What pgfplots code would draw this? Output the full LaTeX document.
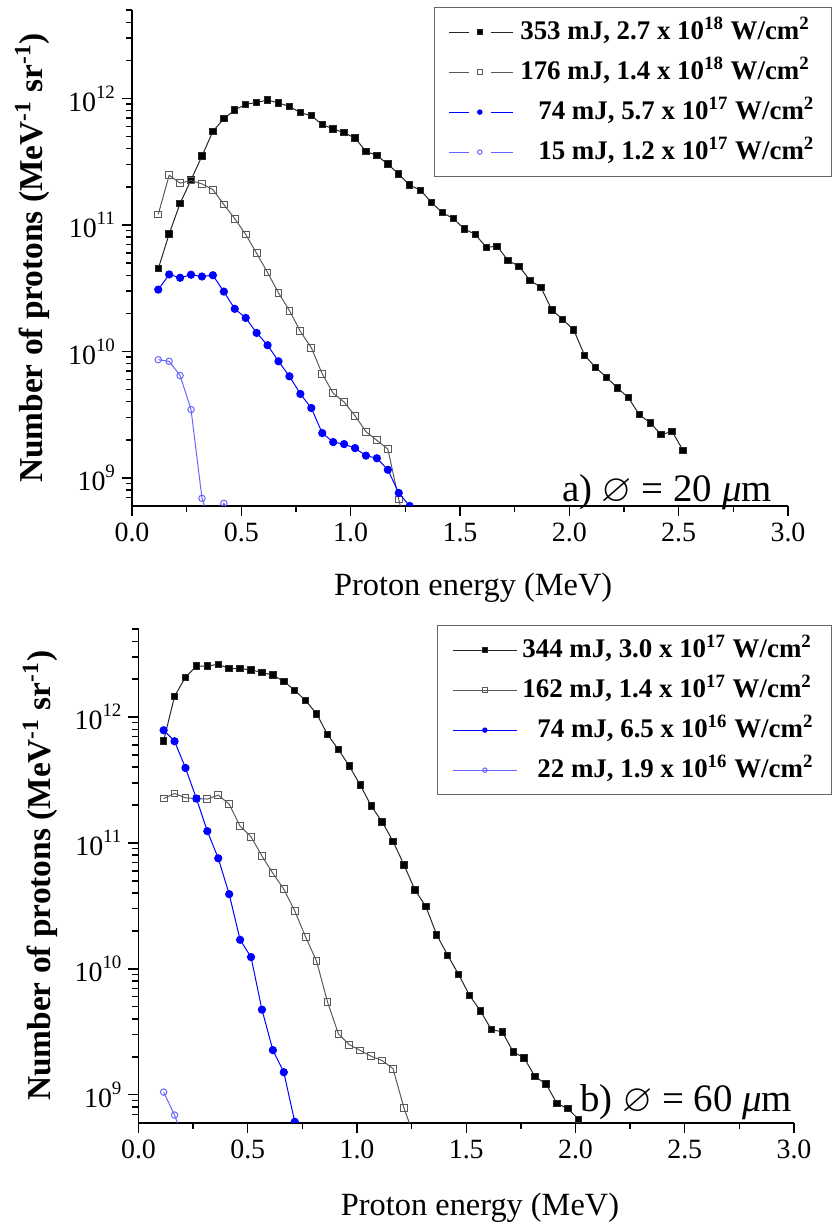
\documentclass[border=0pt]{standalone}
\usepackage{fontspec}
\setmainfont{Liberation Serif}
\usepackage{amssymb}
\usepackage{pgfplots}
\pgfplotsset{compat=1.18}
\newcommand{\tsup}[1]{\raisebox{6.5bp}{\fontsize{9.5}{10}\selectfont #1}}
\tikzset{
  sA/.style={color=black!85, line width=0.5bp, mark=square*, mark size=1.6bp, mark options={solid, fill=black}},
  sB/.style={color=black!65, line width=0.5bp, mark=square, mark size=1.7bp, mark options={solid, line width=0.5bp}},
  sC/.style={color=blue, line width=0.5bp, mark=*, mark size=1.8bp},
  sD/.style={color=blue!60, line width=0.5bp, mark=o, mark size=1.6bp, mark options={line width=0.5bp}},
}
\begin{document}
\begin{tikzpicture}
\useasboundingbox (0,0) rectangle (416.5bp,612.5bp);
% ---------------- panel a ----------------
\begin{axis}[
  scale only axis,
  ymode=log,
  xmin=0, xmax=3, ymin=6e8, ymax=5e12,
  axis x line*=bottom, axis y line*=left,
  axis line style={line width=0.9bp, -},
  xtick={0,0.5,1,1.5,2,2.5,3}, minor xtick={0.25,0.75,1.25,1.75,2.25,2.75},
  ytick={1e9,1e10,1e11,1e12},
  yticklabels={10\tsup{9},10\tsup{10},10\tsup{11},10\tsup{12}},
  minor ytick={7e8,8e8,9e8,2e9,3e9,4e9,5e9,6e9,7e9,8e9,9e9,2e10,3e10,4e10,5e10,6e10,7e10,8e10,9e10,2e11,3e11,4e11,5e11,6e11,7e11,8e11,9e11,2e12,3e12,4e12,5e12},
  tick align=outside,
  major tick length=5bp, minor tick length=3bp,
  tick style={line width=0.7bp, black},
  xticklabel style={/pgf/number format/fixed, /pgf/number format/fixed zerofill, /pgf/number format/precision=1, /pgf/number format/assume math mode=true},
  tick label style={font=\fontsize{14}{16}\selectfont},
  clip mode=individual,
  clip marker paths=true,
  legend cell align=left,
  at={(66bp,359.5bp)}, anchor=south west, width=328bp, height=248bp,
  xlabel={Proton energy (MeV)},
  ylabel={Number of protons (MeV\textsuperscript{-1} sr\textsuperscript{-1})},
  xlabel style={at={(axis description cs:0.52,-0.181)}, anchor=base, font=\fontsize{16.25}{18}\selectfont},
  ylabel style={at={(axis description cs:-0.1357,0.5)}, anchor=base, font=\bfseries\fontsize{16.75}{19}\selectfont},
  legend style={at={(axis description cs:1.067,1.006)}, anchor=north east, draw=black!60, line width=0.6bp,
      font=\bfseries\fontsize{13.5}{15}\selectfont,
      inner xsep=7bp, inner ysep=4bp, row sep=3.5bp,
      /tikz/every odd column/.append style={column sep=2bp},
      nodes={inner sep=1.5bp, text height=10.5bp, text depth=3bp}},
  legend image code/.code={
    \draw[#1,mark=none] (0bp,0bp) -- (10bp,0bp);
    \draw[#1,mark=none] (21bp,0bp) -- (32bp,0bp);
    \draw[#1,mark size=1.1bp] plot coordinates {(15.5bp,0bp)};
  },
]
\addplot[sA] table {
0.12 4.5e10
0.17 8.5e10
0.22 1.48e11
0.27 2.27e11
0.32 3.5e11
0.37 5.5e11
0.42 6.9e11
0.47 8.1e11
0.52 8.97e11
0.57 9.3e11
0.62 9.7e11
0.67 9.2e11
0.72 8.65e11
0.77 7.7e11
0.82 7.3e11
0.87 6.2e11
0.92 5.75e11
0.97 5.35e11
1.02 4.86e11
1.07 3.81e11
1.12 3.54e11
1.17 3.02e11
1.22 2.52e11
1.27 2.06e11
1.32 1.88e11
1.37 1.50e11
1.42 1.25e11
1.47 1.12e11
1.52 9.3e10
1.57 8.4e10
1.62 6.66e10
1.67 6.78e10
1.72 5.22e10
1.77 4.71e10
1.82 3.65e10
1.87 3.21e10
1.92 2.13e10
1.97 1.79e10
2.02 1.48e10
2.07 9.3e9
2.12 7.48e9
2.17 6.24e9
2.22 5.14e9
2.27 4.31e9
2.32 3.16e9
2.37 2.72e9
2.42 2.20e9
2.47 2.33e9
2.52 1.65e9
};
\addlegendentry{353 mJ, 2.7 x 10\textsuperscript{18} W/cm\textsuperscript{2}}
\addplot[sB] table {
0.12 1.21e11
0.17 2.47e11
0.22 2.14e11
0.27 2.24e11
0.32 2.11e11
0.37 1.90e11
0.42 1.45e11
0.47 1.12e11
0.52 8.4e10
0.57 5.97e10
0.62 4.2e10
0.67 2.9e10
0.72 2.1e10
0.77 1.44e10
0.82 1.07e10
0.87 6.64e9
0.92 4.67e9
0.97 3.98e9
1.02 3.1e9
1.07 2.32e9
1.12 1.98e9
1.17 1.69e9
1.22 6.76e8
1.27 3.0e8
};
\addlegendentry{176 mJ, 1.4 x 10\textsuperscript{18} W/cm\textsuperscript{2}}
\addplot[sC] table {
0.12 3.08e10
0.17 4.06e10
0.22 3.82e10
0.27 4.04e10
0.32 3.91e10
0.37 4.0e10
0.42 2.97e10
0.47 2.17e10
0.52 1.84e10
0.57 1.40e10
0.62 1.12e10
0.67 8.35e9
0.72 6.36e9
0.77 4.61e9
0.82 3.57e9
0.87 2.26e9
0.92 1.92e9
0.97 1.85e9
1.02 1.72e9
1.07 1.50e9
1.12 1.43e9
1.17 1.16e9
1.22 7.6e8
1.27 6.0e8
};
\addlegendentry{\hspace*{9bp}74 mJ, 5.7 x 10\textsuperscript{17} W/cm\textsuperscript{2}}
\addplot[sD] table {
0.12 8.6e9
0.17 8.35e9
0.22 6.44e9
0.27 3.47e9
0.32 6.9e8
0.37 4.0e8
0.42 6.3e8
0.47 4.5e8
0.52 5.9e8
};
\addlegendentry{\hspace*{9bp}15 mJ, 1.2 x 10\textsuperscript{17} W/cm\textsuperscript{2}}
\node[anchor=base east, font=\fontsize{19.5}{21}\selectfont] at (axis description cs:0.986,0.01) {a) $\varnothing$ = 20 {\itshape μ}m};
\end{axis}
% ---------------- panel b ----------------
\begin{axis}[
  scale only axis,
  ymode=log,
  xmin=0, xmax=3, ymin=6e8, ymax=5e12,
  axis x line*=bottom, axis y line*=left,
  axis line style={line width=0.9bp, -},
  xtick={0,0.5,1,1.5,2,2.5,3}, minor xtick={0.25,0.75,1.25,1.75,2.25,2.75},
  ytick={1e9,1e10,1e11,1e12},
  yticklabels={10\tsup{9},10\tsup{10},10\tsup{11},10\tsup{12}},
  minor ytick={7e8,8e8,9e8,2e9,3e9,4e9,5e9,6e9,7e9,8e9,9e9,2e10,3e10,4e10,5e10,6e10,7e10,8e10,9e10,2e11,3e11,4e11,5e11,6e11,7e11,8e11,9e11,2e12,3e12,4e12,5e12},
  tick align=outside,
  major tick length=5bp, minor tick length=3bp,
  tick style={line width=0.7bp, black},
  xticklabel style={/pgf/number format/fixed, /pgf/number format/fixed zerofill, /pgf/number format/precision=1, /pgf/number format/assume math mode=true},
  tick label style={font=\fontsize{14}{16}\selectfont},
  clip mode=individual,
  clip marker paths=true,
  legend cell align=left,
  at={(69.25bp,51.15bp)}, anchor=south west, width=327.75bp, height=246.85bp,
  xlabel={Proton energy (MeV)},
  ylabel={Number of protons (MeV\textsuperscript{-1} sr\textsuperscript{-1})},
  xlabel style={at={(axis description cs:0.521,-0.189)}, anchor=base, font=\fontsize{16.25}{18}\selectfont},
  ylabel style={at={(axis description cs:-0.134,0.5)}, anchor=base, font=\bfseries\fontsize{16.75}{19}\selectfont},
  legend style={at={(axis description cs:1.058,1.008)}, anchor=north east, draw=black!60, line width=0.6bp,
      font=\bfseries\fontsize{13.5}{15}\selectfont,
      inner xsep=7.5bp, inner ysep=4bp, row sep=3.5bp,
      /tikz/every odd column/.append style={column sep=1bp},
      nodes={inner sep=1.5bp, text height=10.5bp, text depth=3bp}},
  legend image code/.code={
    \draw[#1,mark repeat=2,mark phase=2,mark size=1.1bp] plot coordinates {(0bp,0bp) (16bp,0bp) (32bp,0bp)};
  },
]
\addplot[sA] table {
0.115 6.46e11
0.165 1.46e12
0.215 2.07e12
0.265 2.54e12
0.315 2.54e12
0.365 2.62e12
0.415 2.43e12
0.465 2.42e12
0.515 2.37e12
0.565 2.26e12
0.615 2.15e12
0.665 1.92e12
0.715 1.63e12
0.765 1.35e12
0.815 1.06e12
0.865 7.26e11
0.915 5.52e11
0.965 4.07e11
1.015 2.88e11
1.065 1.97e11
1.115 1.47e11
1.165 1.03e11
1.215 6.69e10
1.265 4.24e10
1.315 3.13e10
1.365 1.86e10
1.415 1.28e10
1.465 9.03e9
1.515 6.16e9
1.565 4.63e9
1.615 3.29e9
1.665 3.16e9
1.715 2.19e9
1.765 1.96e9
1.815 1.39e9
1.865 1.22e9
1.915 8.53e8
1.965 7.74e8
2.015 6.37e8
};
\addlegendentry{344 mJ, 3.0 x 10\textsuperscript{17} W/cm\textsuperscript{2}}
\addplot[sB] table {
0.115 2.25e11
0.165 2.47e11
0.215 2.28e11
0.265 2.25e11
0.315 2.23e11
0.365 2.4e11
0.415 2.03e11
0.465 1.36e11
0.515 1.12e11
0.565 7.87e10
0.615 5.74e10
0.665 4.29e10
0.715 2.89e10
0.765 1.79e10
0.815 1.15e10
0.865 5.46e9
0.915 3.04e9
0.965 2.5e9
1.015 2.25e9
1.065 2.02e9
1.115 1.87e9
1.165 1.61e9
1.215 7.83e8
1.265 4.5e8
};
\addlegendentry{162 mJ, 1.4 x 10\textsuperscript{17} W/cm\textsuperscript{2}}
\addplot[sC] table {
0.115 7.85e11
0.165 6.42e11
0.215 3.94e11
0.265 2.25e11
0.315 1.24e11
0.365 7.55e10
0.415 3.92e10
0.465 1.70e10
0.515 1.24e10
0.565 4.74e9
0.615 2.26e9
0.665 1.51e9
0.715 6.1e8
};
\addlegendentry{\hspace*{7.5bp}74 mJ, 6.5 x 10\textsuperscript{16} W/cm\textsuperscript{2}}
\addplot[sD] table {
0.115 1.05e9
0.165 6.9e8
0.215 4.0e8
};
\addlegendentry{\hspace*{7.5bp}22 mJ, 1.9 x 10\textsuperscript{16} W/cm\textsuperscript{2}}
\node[anchor=base east, font=\fontsize{19.5}{21}\selectfont] at (axis description cs:1.0076,0.0223) {b) $\varnothing$ = 60 {\itshape μ}m};
\end{axis}
\end{tikzpicture}
\end{document}
